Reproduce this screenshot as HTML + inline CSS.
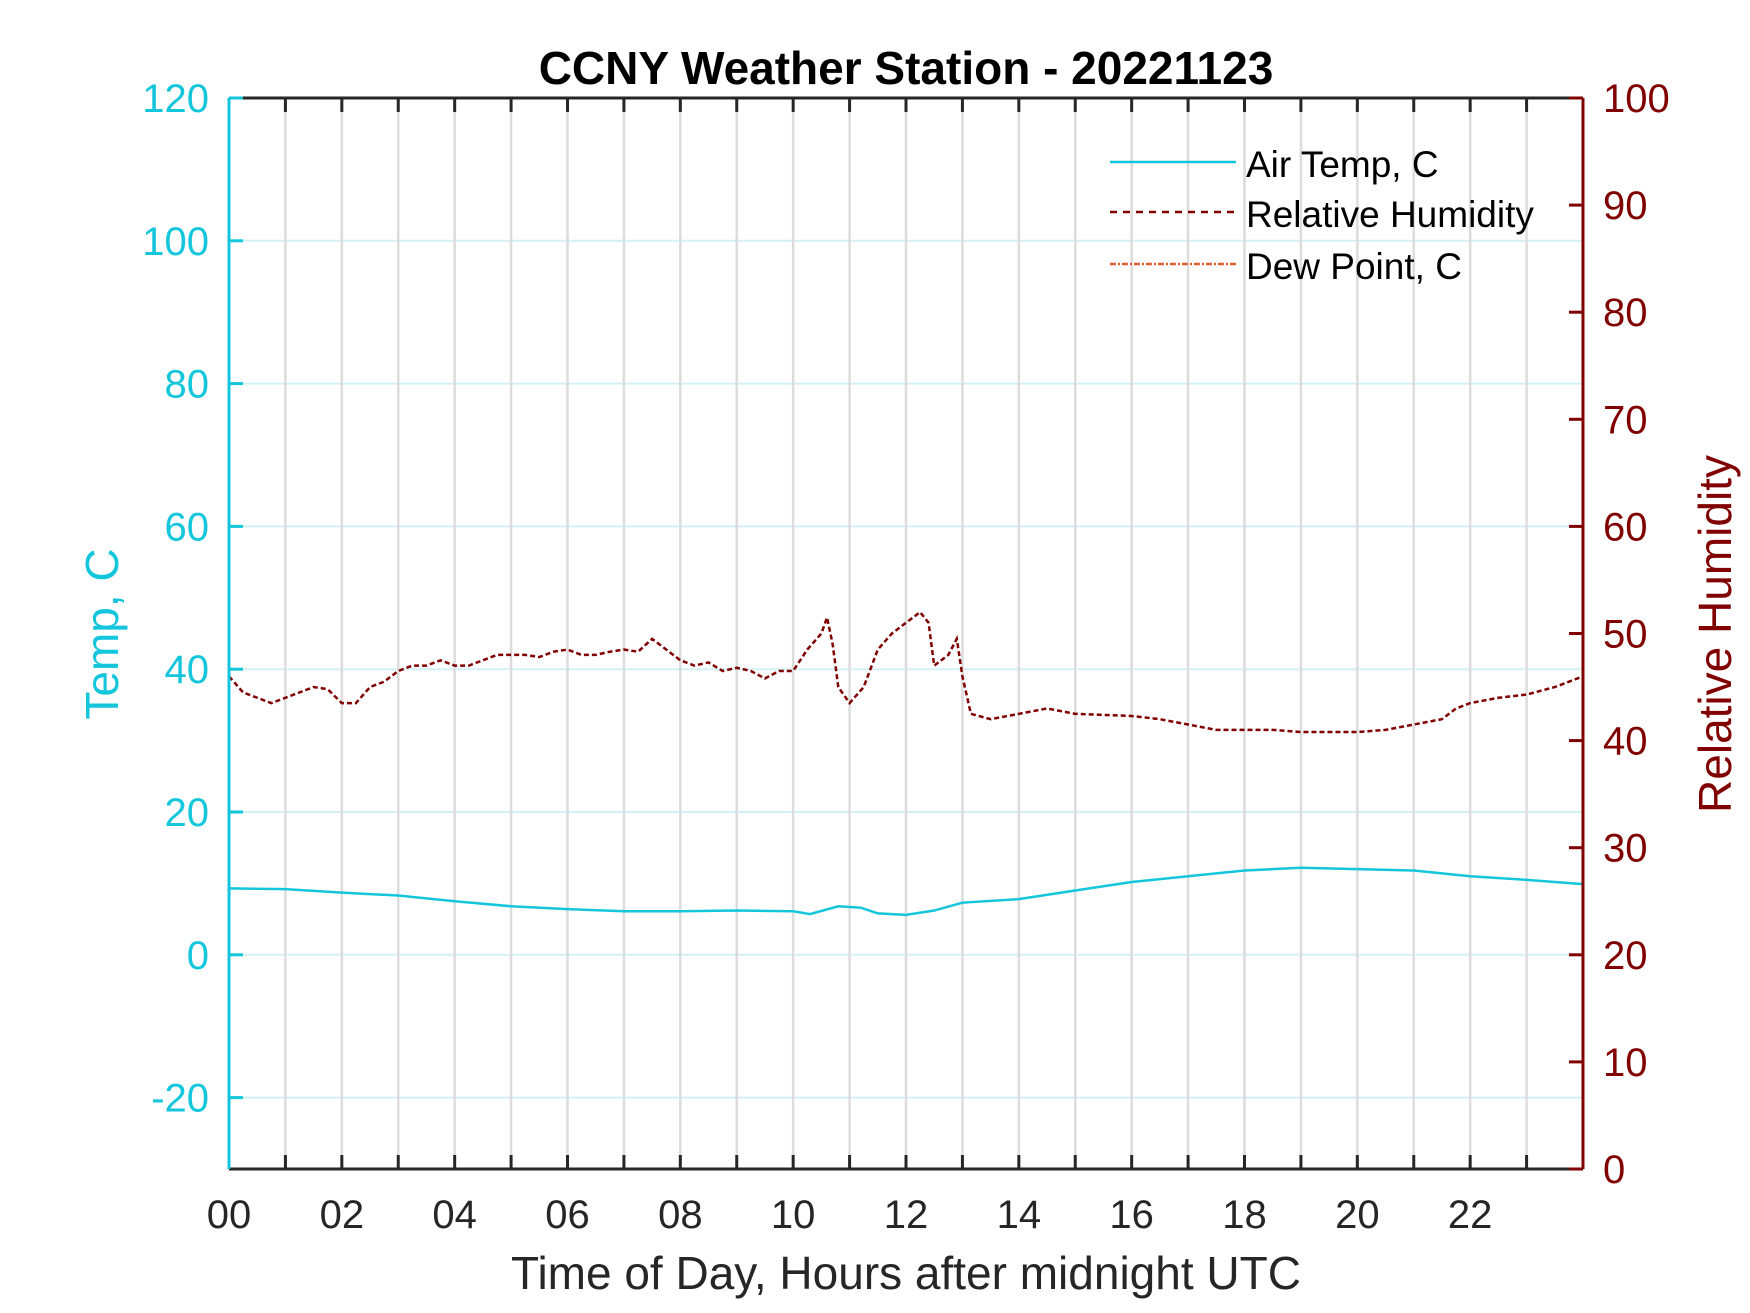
<!DOCTYPE html>
<html><head><meta charset="utf-8"><style>
html,body{margin:0;padding:0;background:#fff}
svg{display:block;font-family:"Liberation Sans",Arial,sans-serif}
</style></head><body>
<svg id="chart" width="1750" height="1313" viewBox="0 0 1750 1313">
<g id="grid"></g>
<g id="series"></g>
<g id="axes"></g>
<text x="906" y="84" text-anchor="middle" font-size="46" font-weight="bold" fill="#000">CCNY Weather Station - 20221123</text>
<text x="906" y="1289" text-anchor="middle" font-size="46" fill="#262626">Time of Day, Hours after midnight UTC</text>
<text transform="translate(118,634) rotate(-90)" text-anchor="middle" font-size="46" fill="#14c6dc">Temp, C</text>
<text transform="translate(1731,634) rotate(-90)" text-anchor="middle" font-size="46" fill="#800000">Relative Humidity</text>
<g>
<line x1="1110" y1="162" x2="1236" y2="162" stroke="#14c6dc" stroke-width="2.5"/>
<text x="1246" y="177" font-size="37" fill="#000">Air Temp, C</text>
<line x1="1110" y1="212" x2="1236" y2="212" stroke="#800000" stroke-width="2.5" stroke-dasharray="7,6"/>
<text x="1246" y="227" font-size="37" fill="#000">Relative Humidity</text>
<line x1="1110" y1="264" x2="1236" y2="264" stroke="#e2622a" stroke-width="2.5" stroke-dasharray="6,2,2,2"/>
<text x="1246" y="279" font-size="37" fill="#000">Dew Point, C</text>
</g>
</svg>
<script>
const rhHours=[0,0.25,0.5,0.75,1,1.25,1.5,1.75,2,2.25,2.5,2.75,3,3.25,3.5,3.75,4,4.25,4.5,4.75,5,5.25,5.5,5.75,6,6.25,6.5,6.75,7,7.25,7.5,7.75,8,8.25,8.5,8.75,9,9.25,9.5,9.75,10,10.25,10.5,10.6,10.7,10.8,11,11.25,11.5,11.75,12,12.25,12.4,12.5,12.75,12.9,13,13.15,13.5,14,14.5,15,16,16.5,17,17.5,18,18.5,19,19.5,20,20.5,21,21.5,21.75,22,22.5,23,23.5,24];
const rhValues=[46,44.5,44,43.5,44,44.5,45,44.8,43.5,43.5,45,45.5,46.5,47,47,47.5,47,47,47.5,48,48,48,47.8,48.3,48.5,48,48,48.3,48.5,48.3,49.5,48.5,47.5,47,47.3,46.5,46.8,46.5,45.8,46.5,46.5,48.5,50,51.5,49,45,43.5,45,48.5,50,51,52,51,47,48,49.5,46,42.5,42,42.5,43,42.5,42.3,42,41.5,41,41,41,40.8,40.8,40.8,41,41.5,42,43,43.5,44,44.3,45,46];
const tHours=[0,1,2,3,4,5,6,7,8,9,10,10.3,10.8,11.2,11.5,12,12.5,13,14,15,16,17,18,19,20,21,22,23,24];
const tValues=[9.3,9.2,8.7,8.3,7.5,6.8,6.4,6.1,6.1,6.2,6.1,5.7,6.8,6.6,5.8,5.6,6.2,7.3,7.8,9,10.2,11,11.8,12.2,12,11.8,11,10.5,9.9];
const xTickLabels=["00","02","04","06","08","10","12","14","16","18","20","22"];
const tempTicks=[-20,0,20,40,60,80,100,120];
const rhTicks=[0,10,20,30,40,50,60,70,80,90,100];
const L=229,R=1583,T=98,B=1169;
const xs=h=>L+(R-L)*h/24;
const yT=v=>B-(B-T)*(v+30)/150;
const yR=v=>B-(B-T)*v/100;
const NS="http://www.w3.org/2000/svg";
function mk(tag,parent,attrs){const e=document.createElementNS(NS,tag);for(const k in attrs)e.setAttribute(k,attrs[k]);document.getElementById(parent).appendChild(e);return e;}
for(const v of tempTicks){
 const e=mk('line','grid',{x1:L,x2:R,y1:yT(v),y2:yT(v),stroke:'#d3f0f4','stroke-width':2});
 
 
}
for(let h=1;h<24;h++){
 const e=mk('line','grid',{x1:xs(h),x2:xs(h),y1:T,y2:B,stroke:'#dcdcdc','stroke-width':2.5});
 
 
}
const rp=mk('polyline','series',{points:rhHours.map((h,i)=>xs(h)+','+yR(rhValues[i])).join(' '),fill:'none',stroke:'#800000','stroke-width':2.5,'stroke-dasharray':'5,3'});


const tp=mk('polyline','series',{points:tHours.map((h,i)=>xs(h)+','+yT(tValues[i])).join(' '),fill:'none',stroke:'#14c6dc','stroke-width':2.5});


const ax=[[L,T,R,T,'#262626','top-axis'],[L,B,R,B,'#262626','bottom-axis'],[L,T,L,B,'#14c6dc','left-axis'],[R,T,R,B,'#800000','right-axis']];
for(const a of ax){
 const e=mk('line','axes',{x1:a[0],y1:a[1],x2:a[2],y2:a[3],stroke:a[4],'stroke-width':3});
 
 
}
for(let h=1;h<24;h++){
 const e1=mk('line','axes',{x1:xs(h),x2:xs(h),y1:T,y2:T+14,stroke:'#262626','stroke-width':3});
 
 
 const e2=mk('line','axes',{x1:xs(h),x2:xs(h),y1:B,y2:B-14,stroke:'#262626','stroke-width':3});
 
 
}
xTickLabels.forEach((s,i)=>{
 const e=mk('text','axes',{x:xs(i*2),y:1228,'text-anchor':'middle','font-size':40,fill:'#262626'});
 e.textContent=s;
 
 
});
for(const v of tempTicks){
 const t=mk('line','axes',{x1:L,x2:L+14,y1:yT(v),y2:yT(v),stroke:'#14c6dc','stroke-width':3});
 
 
 const e=mk('text','axes',{x:209,y:yT(v)+14,'text-anchor':'end','font-size':40,fill:'#14c6dc'});
 e.textContent=v;
 
 
}
for(const v of rhTicks){
 const t=mk('line','axes',{x1:R,x2:R-14,y1:yR(v),y2:yR(v),stroke:'#800000','stroke-width':3});
 
 
 const e=mk('text','axes',{x:1603,y:yR(v)+14,'text-anchor':'start','font-size':40,fill:'#800000'});
 e.textContent=v;
 
 
}
</script>
</body></html>
